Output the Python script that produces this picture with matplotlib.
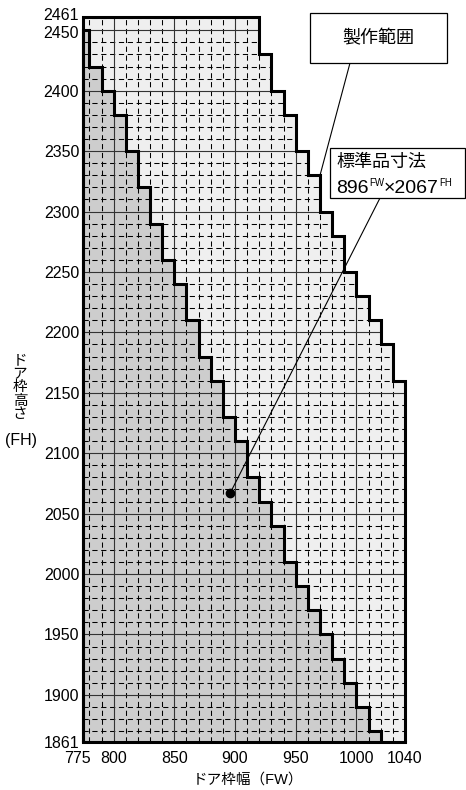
import matplotlib
matplotlib.use('Agg')
import matplotlib.pyplot as plt
from matplotlib.patches import Rectangle
from matplotlib.transforms import ScaledTranslation

plt.rcParams['font.family'] = ['Liberation Sans', 'Noto Sans CJK JP']

# door frame width (FW) / height (FH) limits, mm
fw_min, fw_max = 775, 1040
fh_min, fh_max = 1861, 2461

# production range (outer staircase): column edges and heights
range_edges = [775, 920, 930, 940, 950, 960, 970, 980, 990, 1000, 1010, 1020, 1030, 1040]
range_heights = [2461, 2430, 2400, 2380, 2350, 2330, 2300, 2280, 2250, 2230, 2210, 2190, 2160]

# inner staircase (dark area)
inner_edges = [775, 780, 790, 800, 810, 820, 830, 840, 850, 860, 870, 880, 890,
               900, 910, 920, 930, 940, 950, 960, 970, 980, 990, 1000, 1010, 1020]
inner_heights = [2450, 2420, 2400, 2380, 2350, 2320, 2290, 2260, 2240, 2210, 2180, 2160,
                 2130, 2110, 2080, 2060, 2040, 2010, 1990, 1970, 1950, 1930, 1910, 1890, 1870]

# standard product size
std_fw, std_fh = 896, 2067

xticks = [775, 800, 850, 900, 950, 1000, 1040]
yticks = [1861, 1900, 1950, 2000, 2050, 2100, 2150, 2200, 2250, 2300, 2350, 2400, 2450, 2461]

# grid lines
major_x = [800, 850, 900, 950, 1000]
minor_x = [780, 790, 810, 820, 830, 840, 860, 870, 880, 890, 910, 920, 930, 940,
           960, 970, 980, 990, 1010, 1020, 1030]
major_y = [1900, 1950, 2000, 2050, 2100, 2150, 2200, 2250, 2300, 2350, 2400, 2450]
minor_y = [1870, 1880, 1890, 1910, 1920, 1930, 1940, 1960, 1970, 1980, 1990,
           2010, 2020, 2030, 2040, 2060, 2070, 2080, 2090, 2110, 2120, 2130, 2140,
           2160, 2170, 2180, 2190, 2210, 2220, 2230, 2240, 2260, 2270, 2280, 2290,
           2310, 2320, 2330, 2340, 2360, 2370, 2380, 2390, 2410, 2420, 2430, 2440, 2460]

W, H = 466, 790
fig = plt.figure(figsize=(W / 100, H / 100), dpi=100)
ax = fig.add_axes([83.3 / W, 1 - 742 / H, (405 - 83.3) / W, (742 - 17) / H])
ax.set_xlim(fw_min, fw_max)
ax.set_ylim(fh_min, fh_max)

outer = ax.stairs(range_heights, range_edges, baseline=fh_min, fill=True,
                  facecolor='#efefef', edgecolor='none', zorder=1)
ax.stairs(inner_heights, inner_edges, baseline=fh_min, fill=True,
          facecolor='#cdcdcd', edgecolor='none', zorder=2)

dash = (0, (5, 3.5))
for coll in [ax.vlines(minor_x, fh_min, fh_max, colors='k', linestyles=dash, lw=0.75, zorder=3),
             ax.hlines(minor_y, fw_min, fw_max, colors='k', linestyles=dash, lw=0.75, zorder=3),
             ax.vlines(major_x, fh_min, fh_max, colors='#333333', lw=0.8, zorder=3),
             ax.hlines(major_y, fw_min, fw_max, colors='#333333', lw=0.8, zorder=3)]:
    coll.set_clip_path(outer)

ax.stairs(range_heights, range_edges, baseline=fh_min, fill=False, edgecolor='k',
          lw=2.2, zorder=5, clip_on=False, joinstyle='miter')
ax.stairs(inner_heights, inner_edges, baseline=fh_min, fill=False, edgecolor='k',
          lw=2.2, zorder=5, clip_on=False, joinstyle='miter')
ax.plot([fw_min, fw_max], [fh_min, fh_min], color='k', lw=2.2, clip_on=False,
        solid_capstyle='projecting', zorder=5)

for s in ax.spines.values():
    s.set_visible(False)
ax.set_xticks(xticks)
ax.set_yticks(yticks)
ax.tick_params(length=0, labelsize=11.5)
ax.tick_params(axis='x', pad=6.5)
ax.tick_params(axis='y', pad=3)
lbl = ax.get_xticklabels()[0]
lbl.set_transform(lbl.get_transform() + ScaledTranslation(-0.06, 0, fig.dpi_scale_trans))
# pull the two crowded top labels apart
ylbls = ax.get_yticklabels()
ylbls[-1].set_transform(ylbls[-1].get_transform() + ScaledTranslation(0, 0.03, fig.dpi_scale_trans))
ylbls[-2].set_transform(ylbls[-2].get_transform() + ScaledTranslation(0, -0.015, fig.dpi_scale_trans))

# axis titles
fig.text(247.5 / W, 1 - 780 / H, 'ドア枠幅（FW）', ha='center', va='center', fontsize=10.5)
for i, ch in enumerate('ドア枠高さ'):
    fig.text(20 / W, 1 - (360.5 + i * 13.4) / H, ch, ha='center', va='center', fontsize=10.5)
fig.text(20.5 / W, 1 - 440 / H, '(FH)', ha='center', va='center', fontsize=11.5)

# callout: production range
fig.add_artist(Rectangle((310 / W, 1 - 63 / H), 137 / W, 50 / H, transform=fig.transFigure,
                         facecolor='white', edgecolor='k', lw=0.9, zorder=6))
fig.text(378.5 / W, 1 - 39 / H, '製作範囲', ha='center', va='center', fontsize=13, zorder=7)
ax.annotate('', xy=(range_edges[6], range_heights[5]), xycoords='data',
            xytext=(350 / W, 1 - 63 / H), textcoords='figure fraction',
            arrowprops=dict(arrowstyle='-', lw=0.8, color='k', shrinkA=0, shrinkB=0),
            zorder=6, annotation_clip=False)

# callout: standard size
fig.add_artist(Rectangle((330 / W, 1 - 198 / H), 135 / W, 50 / H, transform=fig.transFigure,
                         facecolor='white', edgecolor='k', lw=0.9, zorder=6))
fig.text(336.5 / W, 1 - 162.5 / H, '標準品寸法', ha='left', va='center', fontsize=13, zorder=7)
renderer = fig.canvas.get_renderer()
x = 336.5 / W
base = 1 - 193 / H
for s, size, up in [(str(std_fw), 14, 0), ('FW', 7, 7), ('×' + str(std_fh), 14, 0), ('FH', 7, 7)]:
    t = fig.text(x, base + up / H, s, ha='left', va='baseline', fontsize=size, zorder=7)
    x += t.get_window_extent(renderer).width / W
ax.annotate('', xy=(std_fw, std_fh), xycoords='data',
            xytext=(380 / W, 1 - 198 / H), textcoords='figure fraction',
            arrowprops=dict(arrowstyle='-', lw=0.8, color='k', shrinkA=0, shrinkB=0),
            zorder=6, annotation_clip=False)
ax.plot(std_fw, std_fh, 'o', color='k', ms=6, zorder=7)

fig.savefig('out.png', dpi=100)
